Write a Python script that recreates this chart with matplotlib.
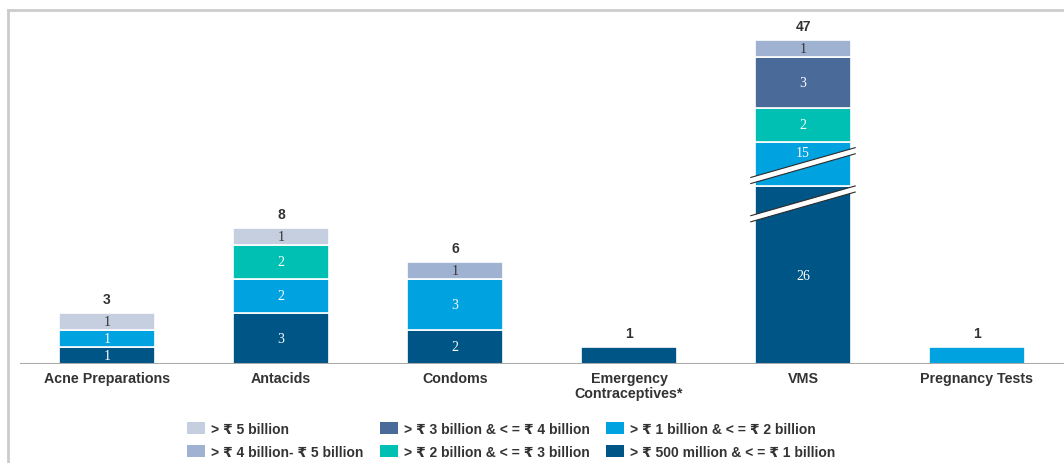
import numpy as np
from matplotlib import pyplot
from matplotlib.patches import Patch, Polygon
from matplotlib.lines import Line2D

## data: number of brands per value band and category
categories = ['Acne Preparations', 'Antacids', 'Condoms', 'Emergency\nContraceptives*', 'VMS', 'Pregnancy Tests']
bands = ['> ₹ 500 million & < = ₹ 1 billion', '> ₹ 1 billion & < = ₹ 2 billion',
         '> ₹ 2 billion & < = ₹ 3 billion', '> ₹ 3 billion & < = ₹ 4 billion',
         '> ₹ 4 billion- ₹ 5 billion', '> ₹ 5 billion']
# stack order, bottom first
band_500m_1b = [1, 3, 2, 1, 26, 0]
band_1b_2b = [1, 2, 3, 0, 15, 1]
band_2b_3b = [0, 2, 0, 0, 2, 0]
band_3b_4b = [0, 0, 0, 0, 3, 0]
band_4b_5b = [0, 0, 1, 0, 1, 0]
band_5b = [1, 1, 0, 0, 0, 0]
band_values = [band_500m_1b, band_1b_2b, band_2b_3b, band_3b_4b, band_4b_5b, band_5b]

# the VMS bar is drawn with a broken scale: shortened heights for the two big segments
broken_heights = {(4, 0): 10.47, (4, 1): 2.6}

band_colors = ['#005587', '#00A3E0', '#00BFB3', '#4A6A9A', '#A0B2D2', '#C5CFE0']
label_colors = ['white', 'white', 'white', 'white', '#333333', '#333333']
text_col = '#333333'
sans = ['Liberation Sans', 'DejaVu Sans']
serif = ['Liberation Serif', 'DejaVu Serif']

## plot
fig = pyplot.figure(figsize=(10.64, 4.64), dpi=100)
ax = fig.add_axes([20 / 1064, (464 - 365) / 464, 1 - 20 / 1064, 355 / 464])
x = np.arange(len(categories))
width = 0.55
bottoms = np.zeros(len(categories))
n_segments = np.count_nonzero(band_values, axis=0)
break_spots = []
for b, vals in enumerate(band_values):
    for i, v in enumerate(vals):
        if v == 0:
            continue
        h = broken_heights.get((i, b), v)
        ax.bar(x[i], h, width, bottom=bottoms[i], color=band_colors[b], edgecolor='white', linewidth=1.2)
        if (i, b) in broken_heights:
            if b == 0:
                break_spots.append((x[i], bottoms[i] + h - 1.05))
                ty = bottoms[i] + h / 2
            else:
                break_spots.append((x[i], bottoms[i] + h / 2 - 0.1))
                ty = bottoms[i] + h - 0.65
        else:
            ty = bottoms[i] + h / 2
        if n_segments[i] > 1:  # single-segment bars only carry the total
            ax.text(x[i], ty, str(v), ha='center', va='center', color=label_colors[b], fontsize=10, family=serif)
        bottoms[i] += h

totals = np.sum(band_values, axis=0)
for i, t in enumerate(totals):
    ax.text(x[i], bottoms[i] + 0.4, str(t), ha='center', va='bottom', fontsize=10, fontweight='bold',
            color=text_col, family=sans)

# break marks on the VMS bar
for bx, by in break_spots:
    x0, x1 = bx - 0.3, bx + 0.3
    slope, half = 1.75, 0.18
    y0, y1 = by - slope / 2, by + slope / 2
    ax.add_patch(Polygon([[x0, y0 - half], [x1, y1 - half], [x1, y1 + half], [x0, y0 + half]],
                         closed=True, facecolor='white', edgecolor='none', zorder=5, clip_on=False))
    for off in (-half, half):
        ax.plot([x0, x1], [y0 + off, y1 + off], color='#2b2b2b', lw=0.8, zorder=6, clip_on=False)

ax.axhline(0, color='#AAAAAA', lw=1.5, zorder=3)
ax.set_xlim(-0.5, 5.5)
ax.set_ylim(0, 355 / 17)
ax.axis('off')
for i, c in enumerate(categories):
    ax.text(x[i], -0.4, c, ha='center', va='top', fontsize=10.3, fontweight='bold', color=text_col,
            family=sans, linespacing=1.1)

# frame on top and left
fig.add_artist(Line2D([7.5 / 1064, 1], [1 - 10.5 / 464] * 2, color='#CCCCCC', lw=2))
fig.add_artist(Line2D([7.5 / 1064] * 2, [0, 1 - 10.5 / 464], color='#CCCCCC', lw=2))

## legend
order = [5, 4, 3, 2, 1, 0]
handles = [Patch(facecolor=band_colors[k], edgecolor='none') for k in order]
labels = [bands[k] for k in order]
fig.legend(handles, labels, loc='upper left', bbox_to_anchor=(187 / 1064, 1 - 423 / 464), ncol=3,
           frameon=False, borderpad=0, borderaxespad=0, handlelength=1.3, handleheight=1.0,
           handletextpad=0.45, columnspacing=1.15, labelspacing=0.62,
           prop={'family': sans, 'weight': 'bold', 'size': 10}, labelcolor=text_col)

fig.savefig('out.png', dpi=100)
